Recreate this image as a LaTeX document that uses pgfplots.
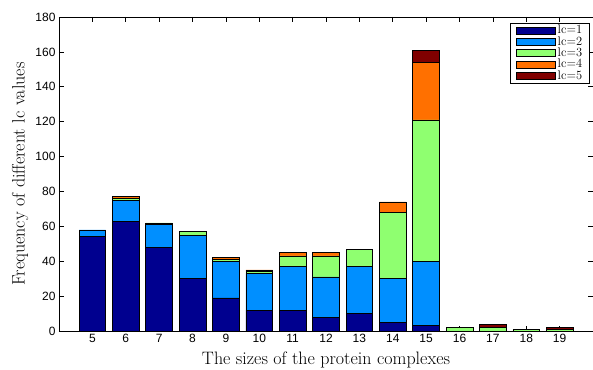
\documentclass[border=0pt]{standalone}
\usepackage{fontspec}
\usepackage{pgfplots}
\pgfplotsset{compat=1.18}
\newfontfamily\ticksf{Liberation Sans}
\definecolor{c1}{RGB}{0,0,143}
\definecolor{c2}{RGB}{0,143,255}
\definecolor{c3}{RGB}{143,255,112}
\definecolor{c4}{RGB}{255,112,0}
\definecolor{c5}{RGB}{128,0,0}
\begin{document}
\begin{tikzpicture}
\begin{axis}[name=ax, scale only axis, width=534pt, height=314pt,
 xmin=4, xmax=20, ymin=0, ymax=180,
 ybar stacked, bar width=0.8,
 xtick={5,...,19}, ytick={0,20,...,180},
 tick align=inside, major tick length=5pt,
 axis line style={line width=0.8pt},
 every tick/.style={black, line width=0.6pt},
 tick label style={font=\ticksf\fontsize{12}{14}\selectfont},
 /pgf/number format/assume math mode=true,
 xlabel={The sizes of the protein complexes},
 ylabel={Frequency of different lc values},
 label style={font=\fontsize{18}{20}\selectfont},
 xlabel style={at={(axis description cs:0.5,-0.0924)}, anchor=center},
 ylabel style={at={(axis description cs:-0.073,0.5)}, anchor=center},
 legend style={at={(0.9944,0.981)}, anchor=north east, draw=black, line width=0.6pt,
   inner xsep=5.5pt, inner ysep=1.5pt, row sep=0pt,
   font=\fontsize{12.5}{12.5}\selectfont,
   nodes={inner xsep=2pt, inner ysep=0pt, text height=8.9pt, text depth=2.5pt}},
 legend cell align=left,
 legend image code/.code={\draw[#1] (0pt,-3.5pt) rectangle (39pt,3.5pt);},
 every axis plot/.append style={draw=black, line width=0.6pt},
]
\addplot[fill=c1] coordinates {(5,54)(6,63)(7,48)(8,30)(9,19)(10,12)(11,12)(12,8)(13,10)(14,5)(15,3)(16,0)(17,0)(18,0)(19,0)};
\addplot[fill=c2] coordinates {(5,4)(6,12)(7,13)(8,25)(9,21)(10,21)(11,25)(12,23)(13,27)(14,25)(15,37)(16,0)(17,0)(18,0)(19,0)};
\addplot[fill=c3] coordinates {(5,0)(6,1)(7,1)(8,2)(9,1)(10,1)(11,6)(12,12)(13,10)(14,38)(15,81)(16,2)(17,2)(18,1)(19,1)};
\addplot[fill=c4] coordinates {(5,0)(6,1)(7,0)(8,0)(9,1)(10,1)(11,2)(12,2)(13,0)(14,6)(15,33)(16,0)(17,0)(18,0)(19,0)};
\addplot[fill=c5] coordinates {(5,0)(6,0)(7,0)(8,0)(9,0)(10,0)(11,0)(12,0)(13,0)(14,0)(15,7)(16,0)(17,2)(18,0)(19,1)};
\legend{lc=1,lc=2,lc=3,lc=4,lc=5}
\end{axis}
\pgfresetboundingbox
\path[use as bounding box] ([shift={(-59pt,-38pt)}]ax.south west) rectangle ([shift={(0pt,17pt)}]ax.north east);
\end{tikzpicture}
\end{document}
